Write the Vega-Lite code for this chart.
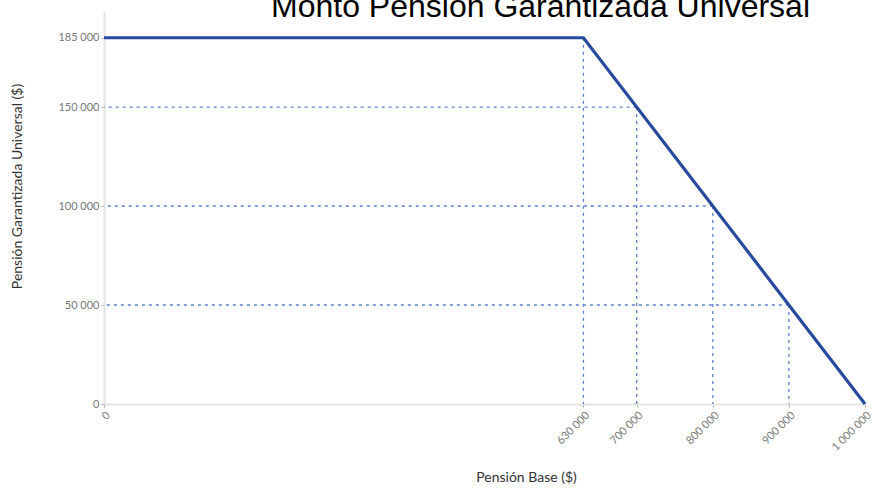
{
  "$schema": "https://vega.github.io/schema/vega-lite/v6.json",
  "autosize": {"type": "none"},
  "width": 761,
  "height": 392,
  "padding": {"left": 104, "top": 12, "right": 14, "bottom": 88},
  "background": "white",
  "config": {
    "view": {"stroke": null},
    "axis": {"labelFont": "Lato", "titleFont": "Lato", "labelColor": "#777", "titleColor": "#333", "labelFontSize": 11, "titleFontSize": 14, "titleFontWeight": "normal", "domainColor": "#e3e3e3", "domainWidth": 2, "tickColor": "#aaa", "tickSize": 3, "grid": false,
      "labelExpr": "replace(format(datum.value, ','), regexp(',', 'g'), ' ')"}
  },
  "title": {"text": "Monto Pensión Garantizada Universal", "font": "Liberation Sans", "fontSize": 32, "fontWeight": "normal", "color": "#000", "anchor": "middle", "dx": 56, "offset": -12},
  "datasets": {
    "line": [
      {"base": 0, "pgu": 185000},
      {"base": 630000, "pgu": 185000},
      {"base": 1000000, "pgu": 0}
    ],
    "vert": [
      {"base": 630000, "pgu": 185000},
      {"base": 700000, "pgu": 150000},
      {"base": 800000, "pgu": 100000},
      {"base": 900000, "pgu": 50000}
    ],
    "horiz": [
      {"base": 700000, "pgu": 150000},
      {"base": 800000, "pgu": 100000},
      {"base": 900000, "pgu": 50000}
    ]
  },
  "layer": [
    {
      "data": {"name": "vert"},
      "mark": {"type": "rule", "color": "#5b7fcf", "strokeDash": [3, 4], "strokeWidth": 1.3},
      "encoding": {
        "x": {"field": "base", "type": "quantitative"},
        "y": {"field": "pgu", "type": "quantitative"},
        "y2": {"datum": 0}
      }
    },
    {
      "data": {"name": "horiz"},
      "mark": {"type": "rule", "color": "#5b7fcf", "strokeDash": [3, 4], "strokeWidth": 1.3},
      "encoding": {
        "y": {"field": "pgu", "type": "quantitative"},
        "x": {"field": "base", "type": "quantitative"},
        "x2": {"datum": 0}
      }
    },
    {
      "data": {"name": "line"},
      "mark": {"type": "line", "color": "#274a9e", "strokeWidth": 3.2},
      "encoding": {
        "x": {"field": "base", "type": "quantitative", "scale": {"domain": [0, 1000000], "nice": false},
          "axis": {"title": "Pensión Base ($)", "values": [0, 630000, 700000, 800000, 900000, 1000000], "labelAngle": -45, "labelAlign": "right", "labelBaseline": "top", "labelPadding": 2, "titleX": 422, "titleY": 66}},
        "y": {"field": "pgu", "type": "quantitative", "scale": {"domain": [0, 198000], "nice": false, "zero": true},
          "axis": {"title": "Pensión Garantizada Universal ($)", "values": [0, 50000, 100000, 150000, 185000], "labelPadding": 2, "titleX": -80, "titleY": 174}}
      }
    }
  ]
}
